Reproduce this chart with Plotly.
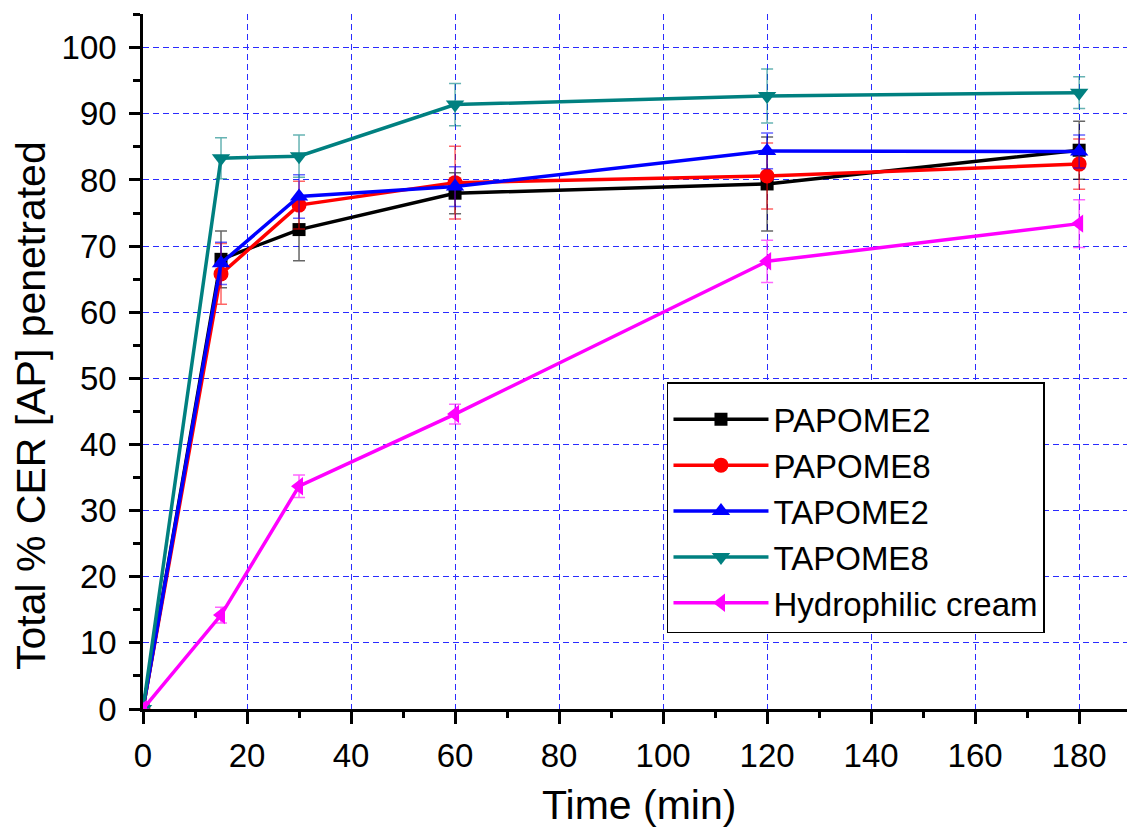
import plotly.graph_objects as go

times = [0, 15, 30, 60, 120, 180]

papome2 = [0, 68.0, 72.5, 78.0, 79.4, 84.5]
papome2_err = [0, 4.3, 4.7, 3.1, 7.1, 4.4]
papome8 = [0, 65.8, 76.2, 79.6, 80.6, 82.4]
papome8_err = [0, 4.6, 3.6, 5.5, 5.0, 3.8]
tapome2 = [0, 67.4, 77.5, 79.0, 84.4, 84.3]
tapome2_err = [0, 3.2, 3.3, 3.0, 2.7, 2.5]
tapome8 = [0, 83.3, 83.6, 91.4, 92.7, 93.2]
tapome8_err = [0, 3.1, 3.2, 3.2, 4.1, 2.4]
cream = [0, 14.2, 33.7, 44.6, 67.7, 73.4]
cream_err = [0, 1.2, 1.7, 1.5, 3.2, 3.6]

series = [
    ("PAPOME2", papome2, papome2_err, "#000000", "rgba(0,0,0,0.6)", "square", 13),
    ("PAPOME8", papome8, papome8_err, "#ff0000", "rgba(255,0,0,0.6)", "circle", 15),
    ("TAPOME2", tapome2, tapome2_err, "#0000ff", "rgba(0,0,255,0.6)", "triangle-up", 16),
    ("TAPOME8", tapome8, tapome8_err, "#008080", "rgba(0,128,128,0.6)", "triangle-down", 16),
    ("Hydrophilic cream", cream, cream_err, "#ff00ff", "rgba(255,0,255,0.6)", "triangle-left", 16),
]

fig = go.Figure()
for i, (name, vals, err, col, ecol, sym, msz) in enumerate(series):
    fig.add_trace(go.Scatter(
        x=times, y=vals, name=name, mode="lines+markers",
        line=dict(color=col, width=3.5),
        marker=dict(symbol=sym, size=msz, color=col),
        error_y=dict(type="data", array=err, visible=True, color=ecol,
                     thickness=1.5, width=6),
        legendgroup="g%d" % i,
    ))

grid_col = "#2b2bff"
fig.update_xaxes(
    range=[0, 189.2], dtick=20, tick0=0,
    showline=True, linecolor="black", linewidth=2.5,
    ticks="outside", ticklen=12, tickwidth=2.5, tickcolor="black",
    minor=dict(dtick=10, ticks="outside", ticklen=6, tickwidth=2.5, tickcolor="black", showgrid=False),
    showgrid=True, gridcolor=grid_col, gridwidth=1, griddash="6px,4px",
    zeroline=False,
    tickfont=dict(family="Liberation Sans", size=33, color="black"),
    ticklabelstandoff=4,
)
fig.update_yaxes(
    range=[0, 105.1], dtick=10, tick0=0,
    showline=True, linecolor="black", linewidth=2.5,
    ticks="outside", ticklen=11, tickwidth=2.5, tickcolor="black",
    minor=dict(dtick=5, ticks="outside", ticklen=7, tickwidth=2.5, tickcolor="black", showgrid=False),
    showgrid=True, gridcolor=grid_col, gridwidth=1, griddash="6px,4px",
    zeroline=False,
    tickfont=dict(family="Liberation Sans", size=33, color="black"),
    ticklabelstandoff=6,
)

fig.update_layout(
    width=1127, height=829,
    margin=dict(l=143, r=0, t=14, b=120),
    paper_bgcolor="white", plot_bgcolor="white",
    showlegend=True,
    legend=dict(
        x=0.5325, y=0.4705, xanchor="left", yanchor="top",
        bgcolor="white", bordercolor="black", borderwidth=1.5,
        font=dict(family="Liberation Sans", size=33, color="black"),
        title=dict(text="&nbsp;", font=dict(size=6)),
        tracegroupgap=0, itemwidth=95,
    ),
    annotations=[
        dict(text="Total % CER [AP] penetrated", textangle=-90,
             x=-0.1138, y=0.436, xref="paper", yref="paper",
             xanchor="center", yanchor="middle", showarrow=False,
             font=dict(family="Liberation Sans", size=41, color="black")),
        dict(text="Time (min)",
             x=0.504, y=-0.138, xref="paper", yref="paper",
             xanchor="center", yanchor="middle", showarrow=False,
             font=dict(family="Liberation Sans", size=41, color="black")),
    ],
)

fig.write_html("out.html", config=dict(displayModeBar=False))
